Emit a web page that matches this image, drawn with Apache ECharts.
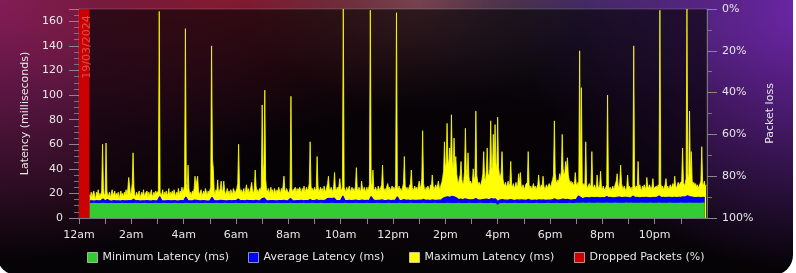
<!DOCTYPE html>
<html>
<head>
<meta charset="utf-8">
<script src="https://cdn.jsdelivr.net/npm/echarts@6/dist/echarts.min.js"></script>
<style>
html,body{margin:0;padding:0;background:#ffffff;width:796px;height:273px;overflow:hidden;}
#panel{position:absolute;left:-3px;top:-20px;width:796px;height:295px;border-radius:20px;
background:
 radial-gradient(ellipse 170px 110px at 420px 20px, rgba(190,120,120,0.45), rgba(190,120,120,0) 100%),
 radial-gradient(ellipse 260px 150px at 230px 10px, rgba(150,30,50,0.85), rgba(150,30,50,0) 100%),
 radial-gradient(ellipse 330px 260px at 0px 20px, rgba(135,30,95,0.95), rgba(135,30,95,0) 100%),
 radial-gradient(ellipse 300px 260px at 820px 30px, rgba(115,40,180,0.95), rgba(115,40,180,0) 100%),
 radial-gradient(ellipse 260px 120px at 600px 10px, rgba(70,60,110,0.7), rgba(70,60,110,0) 100%),
 linear-gradient(to bottom, #1c0b1c 0%, #0c060c 70%, #050305 100%);}
#chart{position:absolute;left:0;top:0;width:796px;height:273px;}
</style>
</head>
<body>
<div id="panel"></div>
<div id="chart"></div>
<script>
// Maximum latency: 2-minute samples (30 per hour, 720 total)
const maxStepMinutes = 2;
// Minimum / average latency: 5-minute samples (12 per hour, 288 total)
const avgStepMinutes = 5;
// Dropped packets: 2-minute samples
const dropStepMinutes = 2;

const tickLabels = ['12am','2am','4am','6am','8am','10am','12pm','2pm','4pm','6pm','8pm','10pm'];
const dateLabel = '19/03/2024';

const maxLatency = [
 null,null,null,null,null,null,null,null,null,null,null,null,19,17,21,16,20,22,18,15,21,19,23,17,20,18,22,60,24,18,
 20,61,22,17,19,21,16,20,23,18,19,22,17,20,18,21,15,19,22,18,20,17,21,19,23,18,24,33,26,19,
 21,28,53,25,19,17,21,18,20,22,16,19,21,18,23,17,20,19,22,16,21,18,20,23,17,19,21,18,22,20,
 19,22,168,21,18,20,23,17,21,19,22,18,20,24,17,21,19,22,18,23,20,17,21,19,24,18,22,20,25,21,
 23,26,154,28,22,43,24,19,21,18,22,20,24,34,26,25,34,22,19,21,23,18,20,22,19,24,21,18,22,20,
 21,25,140,48,40,22,19,23,21,31,20,22,24,30,21,23,30,22,19,21,24,20,22,18,23,21,19,24,22,20,
 22,24,28,60,26,21,23,20,22,24,19,23,27,21,24,20,22,25,29,22,20,24,39,26,21,23,20,24,22,26,
 92,30,45,104,32,23,21,24,20,22,25,21,23,19,24,22,20,23,21,25,22,20,24,21,26,34,23,21,24,22,
 23,20,25,99,24,21,23,22,25,20,24,22,21,25,23,20,24,22,26,21,23,25,22,24,28,62,26,22,24,21,
 25,22,24,50,26,21,23,25,22,24,20,26,23,21,25,28,34,24,22,25,23,21,26,37,24,22,25,23,26,32,
 24,22,26,170,25,23,21,25,22,24,26,21,23,25,22,24,21,26,41,24,22,25,23,21,30,24,22,25,23,21,
 25,22,24,27,169,26,28,39,24,22,25,23,21,26,24,22,25,27,43,25,22,24,21,26,28,23,25,22,24,26,
 23,25,22,27,167,25,23,26,22,24,21,25,28,50,26,23,25,22,24,26,28,39,25,22,24,26,23,25,22,26,
 30,24,26,32,71,28,24,22,25,23,26,24,22,27,25,35,26,23,25,27,24,26,30,25,23,27,29,33,38,62,
 40,45,77,48,42,57,44,84,46,40,65,43,50,36,30,28,32,35,46,31,27,29,38,73,40,33,53,34,28,30,
 27,29,40,31,34,87,35,30,27,29,26,28,31,36,54,33,30,38,57,36,34,40,79,42,38,68,44,76,45,39,
 82,41,35,33,37,54,32,28,26,29,25,27,30,26,28,46,27,25,28,24,26,29,25,27,36,28,37,26,24,27,
 25,23,27,26,29,54,27,24,26,23,25,28,24,26,23,25,27,35,26,24,27,25,34,26,23,25,27,24,26,28,
 27,25,29,31,35,79,36,30,28,31,29,36,32,38,68,40,35,37,46,39,49,35,31,28,30,27,29,26,28,37,
 28,26,29,27,136,30,106,29,26,28,25,62,27,24,26,28,25,27,54,26,24,27,25,23,35,26,24,27,38,25,
 23,26,24,22,25,27,100,26,23,25,22,24,26,23,25,28,30,36,27,24,29,43,28,25,23,26,24,22,25,35,
 24,26,23,25,22,26,140,27,24,26,23,46,25,27,24,22,26,24,27,25,23,33,26,24,27,25,23,26,32,24,
 25,23,26,24,27,25,169,28,24,26,23,25,27,32,24,26,23,25,27,24,26,28,25,34,26,24,27,29,26,28,
 27,30,57,29,26,28,32,170,36,31,87,33,54,30,27,29,26,28,25,27,24,26,28,30,58,29,26,30,25,27
];

const avgLatency = [
 null,null,null,null,null,13.9,14.0,13.8,14.1,13.9,14.0,15.5,
 13.9,15.0,14.0,13.8,14.1,13.9,14.0,13.8,14.1,13.9,14.0,14.2,
 14.0,15.2,13.9,14.1,13.8,14.0,13.9,14.1,14.0,13.8,14.1,13.9,
 14.0,17.5,14.1,13.9,14.0,14.2,13.9,14.0,14.1,13.8,14.0,14.1,
 13.9,17.0,14.2,14.0,13.9,14.5,14.4,14.0,13.9,14.1,14.0,13.8,
 14.0,16.8,14.2,14.0,14.1,14.3,14.2,14.0,13.9,14.1,14.0,14.2,
 14.1,15.5,14.0,14.2,14.0,14.3,14.1,14.2,14.0,14.4,14.1,14.0,
 15.8,16.2,14.1,14.0,14.2,14.1,14.0,13.9,14.2,14.1,14.4,14.0,
 14.2,16.0,14.1,14.0,14.2,14.1,14.3,14.0,14.2,14.1,15.0,14.1,
 14.2,14.8,14.1,14.3,14.2,14.5,15.8,16.0,15.7,16.2,14.3,14.2,
 14.4,17.8,14.2,14.1,14.3,14.2,14.4,14.6,14.2,14.3,14.5,14.2,
 14.3,14.1,17.5,14.8,14.2,14.4,14.3,14.7,14.2,14.3,14.5,14.2,
 14.4,14.3,17.2,14.2,14.4,14.9,14.3,14.5,14.2,14.6,14.3,14.4,
 14.6,14.4,15.2,14.3,14.5,14.2,14.7,14.4,14.3,14.6,14.5,16.0,
 16.8,17.3,16.9,17.6,17.2,16.5,15.0,15.4,14.8,15.6,15.2,14.7,
 14.8,15.0,15.8,14.7,14.6,14.9,15.2,15.3,14.8,15.7,15.4,15.5,
 13.5,14.6,15.0,14.7,14.5,14.6,15.0,14.6,14.4,14.8,14.5,14.7,
 14.6,14.4,15.1,14.5,14.3,14.6,14.4,14.8,14.5,14.7,14.4,14.6,
 14.5,14.7,15.6,14.8,14.6,14.9,15.4,15.0,15.1,14.8,14.6,15.0,
 14.9,17.8,16.8,15.6,16.4,16.6,16.3,16.8,16.5,16.6,16.7,16.4,
 16.6,16.3,17.5,16.5,16.7,16.4,16.6,16.9,17.0,16.5,16.7,16.8,
 16.5,16.3,17.8,16.6,16.9,16.4,16.7,16.5,16.8,16.6,16.4,16.7,
 16.5,16.7,17.9,16.6,16.8,16.5,16.7,16.9,16.6,16.8,16.5,16.7,
 16.9,17.2,17.0,18.0,17.4,17.1,16.8,16.6,16.7,16.5,16.9,16.6
];

const minLatency = [
 null,null,null,null,null,12.3,12.2,12.4,12.3,12.2,12.3,12.4,
 12.3,12.2,12.3,12.4,12.2,12.3,12.3,12.2,12.4,12.3,12.2,12.3,
 12.2,12.3,12.4,12.3,12.2,12.3,12.4,12.2,12.3,12.3,12.2,12.4,
 12.3,12.2,12.3,12.4,12.3,12.2,12.3,12.3,12.4,12.2,12.3,12.2,
 12.3,12.4,12.2,12.3,12.3,12.2,12.4,12.3,12.2,12.3,12.4,12.3,
 12.2,12.3,12.3,12.4,12.2,12.3,12.2,12.4,12.3,12.3,12.2,12.3,
 12.4,12.3,12.2,12.3,12.3,12.4,12.2,12.3,12.3,12.2,12.4,12.3,
 12.3,12.2,12.4,12.3,12.2,12.3,12.3,12.4,12.2,12.3,12.3,12.2,
 12.3,12.4,12.3,12.2,12.3,12.3,12.2,12.4,12.3,12.2,12.3,12.4,
 12.2,12.3,12.3,12.4,12.2,12.3,12.3,12.2,12.4,12.3,12.2,12.3,
 12.3,12.2,12.4,12.3,12.3,12.2,12.3,12.4,12.2,12.3,12.3,12.2,
 12.4,12.3,12.2,12.3,12.3,12.4,12.2,12.3,12.3,12.2,12.4,12.3,
 12.3,12.2,12.3,12.4,12.2,12.3,12.3,12.2,12.4,12.3,12.2,12.3,
 12.2,12.3,12.4,12.3,12.2,12.3,12.3,12.4,12.2,12.3,12.3,12.2,
 12.3,12.4,12.2,12.3,12.3,12.2,12.4,12.3,12.2,12.3,12.3,12.4,
 12.2,12.3,12.3,12.2,12.4,12.3,12.2,12.3,12.3,12.4,12.2,12.3,
 10.8,12.3,12.2,12.4,12.3,12.2,12.3,12.3,12.4,12.2,12.3,12.3,
 12.2,12.4,12.3,12.2,12.3,12.3,12.4,12.2,12.3,12.3,12.2,12.4,
 12.3,12.2,12.3,12.4,12.3,12.2,12.3,12.3,12.2,12.4,12.3,12.2,
 12.4,12.5,12.4,12.6,12.5,12.4,12.6,12.5,12.4,12.5,12.6,12.4,
 12.5,12.4,12.6,12.5,12.4,12.5,12.6,12.4,12.5,12.5,12.4,12.6,
 12.5,12.6,12.4,12.5,12.5,12.4,12.6,12.5,12.4,12.5,12.6,12.5,
 12.4,12.5,12.6,12.5,12.4,12.5,12.5,12.6,12.4,12.5,12.5,12.4,
 12.6,12.5,12.4,12.5,12.6,12.5,12.4,12.5,12.5,12.4,12.6,12.5
];

const droppedPackets = [100,100,100,100,100,100,100,100,100,100,100,100,0];

const seriesNames = ['Minimum Latency (ms)','Average Latency (ms)','Maximum Latency (ms)','Dropped Packets (%)'];
const seriesColors = ['#33cc33','#0000ff','#ffff00','#cc0000'];

function pairs(arr, step){ return arr.map((v,i)=>[i*step, v]); }

const font = 'DejaVu Sans';
const chart = echarts.init(document.getElementById('chart'), null, {renderer:'canvas'});

function legendAt(idx, left){
  return {
    data:[seriesNames[idx]], left:left, top:252, padding:0, icon:'rect', itemWidth:10, itemHeight:10,
    itemStyle:{borderColor:'rgba(255,255,255,0.55)', borderWidth:1},
    textStyle:{color:'#e6e6e6', fontFamily:font, fontSize:11}, selectedMode:false
  };
}

const option = {
  backgroundColor:'transparent',
  animation:false,
  textStyle:{fontFamily:font},
  grid:{left:79, top:9, width:628, height:209, show:true,
        backgroundColor:'rgba(0,0,0,0.6)', borderColor:'rgba(255,255,255,0.18)', borderWidth:1},
  legend:[legendAt(0,87), legendAt(1,248), legendAt(2,409), legendAt(3,574)],
  xAxis:{type:'value', min:0, max:1440, interval:60,
    axisLine:{show:true, lineStyle:{color:'#777'}},
    axisTick:{show:true, length:6, lineStyle:{color:'#888'}},
    axisLabel:{color:'#e6e6e6', fontSize:11, fontFamily:font, margin:12, showMaxLabel:false,
      formatter:function(v){ return (v%120===0 && v<1440) ? tickLabels[v/120] : ''; }},
    splitLine:{show:false}},
  yAxis:[
    {type:'value', min:0, max:170, interval:20, position:'left',
     name:'Latency (milliseconds)', nameLocation:'middle', nameGap:45,
     nameTextStyle:{color:'#e6e6e6', fontSize:11, fontFamily:font},
     axisLine:{show:true, lineStyle:{color:'#777'}},
     axisTick:{show:true, length:10, lineStyle:{color:'#888'}},
     minorTick:{show:true, splitNumber:4, length:5, lineStyle:{color:'#777'}},
     axisLabel:{color:'#e6e6e6', fontSize:11, fontFamily:font, margin:16, showMaxLabel:false,
       formatter:function(v){ return v%20===0 ? String(v) : ''; }},
     splitLine:{show:false}},
    {type:'value', min:0, max:100, interval:20, position:'right', inverse:true,
     name:'Packet loss', nameLocation:'middle', nameGap:50,
     nameTextStyle:{color:'#e6e6e6', fontSize:11, fontFamily:font},
     axisLine:{show:true, lineStyle:{color:'#777'}},
     axisTick:{show:true, length:10, lineStyle:{color:'#888'}},
     minorTick:{show:true, splitNumber:2, length:5, lineStyle:{color:'#777'}},
     axisLabel:{color:'#e6e6e6', fontSize:11, fontFamily:font, margin:15, formatter:'{value}%'},
     splitLine:{show:false}}
  ],
  series:[
    {name:seriesNames[2], type:'line', data:pairs(maxLatency, maxStepMinutes), showSymbol:false, symbol:'none',
     z:2, lineStyle:{width:0.8, color:seriesColors[2]}, itemStyle:{color:seriesColors[2]},
     areaStyle:{color:seriesColors[2], opacity:1}},
    {name:seriesNames[1], type:'line', data:pairs(avgLatency, avgStepMinutes), showSymbol:false, symbol:'none',
     z:3, lineStyle:{width:1.2, color:seriesColors[1]}, itemStyle:{color:seriesColors[1]},
     areaStyle:{color:seriesColors[1], opacity:1}},
    {name:seriesNames[0], type:'line', data:pairs(minLatency, avgStepMinutes), showSymbol:false, symbol:'none',
     z:4, lineStyle:{width:0, color:seriesColors[0]}, itemStyle:{color:seriesColors[0]},
     areaStyle:{color:seriesColors[0], opacity:1}},
    {name:seriesNames[3], type:'line', yAxisIndex:1, step:'end', data:pairs(droppedPackets, dropStepMinutes),
     showSymbol:false, symbol:'none', z:5, lineStyle:{width:0, color:seriesColors[3]},
     itemStyle:{color:seriesColors[3]}, areaStyle:{color:seriesColors[3], opacity:1}}
  ],
  graphic:[{type:'text', x:87, y:47, rotation:Math.PI/2, z:100,
    style:{text:dateLabel, fill:'rgba(235,195,195,0.4)', font:'11px "DejaVu Sans"', align:'center', verticalAlign:'middle'}}]
};
chart.setOption(option);
</script>
</body>
</html>
